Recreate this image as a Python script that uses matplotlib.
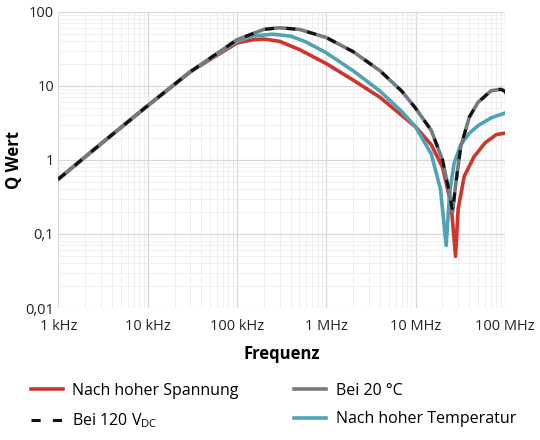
import numpy as np
import matplotlib.pyplot as plt
from matplotlib.ticker import FixedLocator, FixedFormatter, LogLocator, NullFormatter

plt.rcParams['font.family'] = ['Open Sans', 'DejaVu Sans']

# frequencies in Hz
f_gray = [1e3, 3e3, 1e4, 3e4, 1e5, 2e5, 3e5, 5e5, 1e6, 2e6, 4e6, 7e6, 1e7, 1.5e7, 2e7, 2.4e7, 2.6e7, 2.8e7, 3.2e7, 4e7, 5e7, 7e7, 9e7, 1e8, 1.1e8]
q_gray = [0.55, 1.65, 5.4, 15.5, 42, 58, 61, 58, 45, 29, 16, 8.5, 5, 2.5, 1.0, 0.35, 0.2, 0.45, 1.5, 3.8, 6, 8.6, 9, 8.5, 7]

f_red = [1e3, 3e3, 1e4, 3e4, 1e5, 1.5e5, 2e5, 3e5, 5e5, 1e6, 2e6, 4e6, 7e6, 1e7, 1.5e7, 2e7, 2.5e7, 2.8e7, 3e7, 3.5e7, 4.5e7, 6e7, 8e7, 1e8, 1.1e8]
q_red = [0.55, 1.65, 5.4, 15.5, 38, 42, 43, 40, 31, 20, 12, 7, 4, 2.8, 1.6, 0.8, 0.25, 0.05, 0.22, 0.6, 1.1, 1.7, 2.2, 2.3, 2.3]

f_teal = [1e3, 3e3, 1e4, 3e4, 1e5, 1.5e5, 2.5e5, 4e5, 6e5, 1e6, 2e6, 4e6, 7e6, 1e7, 1.5e7, 1.9e7, 2.2e7, 2.4e7, 2.7e7, 3.2e7, 4e7, 5e7, 7e7, 1e8, 1.1e8]
q_teal = [0.55, 1.65, 5.4, 15.5, 40, 47, 50, 47, 39, 28, 16, 8.5, 4.5, 2.8, 1.2, 0.4, 0.07, 0.35, 0.9, 1.6, 2.3, 2.9, 3.7, 4.3, 4.5]

xticks = [1e3, 1e4, 1e5, 1e6, 1e7, 1e8]
xlabels = ['1 kHz', '10 kHz', '100 kHz', '1 MHz', '10 MHz', '100 MHz']
yticks = [0.01, 0.1, 1, 10, 100]
ylabels = ['0,01', '0,1', '1', '10', '100']

fig = plt.figure(figsize=(5.4, 4.4), dpi=100)
ax = fig.add_axes([0.108, 0.30, 0.827, 0.673])

ax.plot(f_red, q_red, color='#d0352b', lw=2.6, label='Nach hoher Spannung')
ax.plot(f_teal, q_teal, color='#4fa3b5', lw=2.6, label='Nach hoher Temperatur')
ax.plot(f_gray, q_gray, color='#747b80', lw=2.6, label='Bei 20 °C')
ax.plot(f_gray, q_gray, color='#111111', lw=2.2, ls=(0, (3, 4)), label='Bei 120 V$_{\\mathregular{DC}}$')

ax.set_xscale('log')
ax.set_yscale('log')
ax.set_xlim(1e3, 1e8)
ax.set_ylim(0.01, 100)
ax.xaxis.set_major_locator(FixedLocator(xticks))
ax.xaxis.set_major_formatter(FixedFormatter(xlabels))
ax.yaxis.set_major_locator(FixedLocator(yticks))
ax.yaxis.set_major_formatter(FixedFormatter(ylabels))
ax.xaxis.set_minor_locator(LogLocator(base=10, subs=np.arange(2, 10)))
ax.yaxis.set_minor_locator(LogLocator(base=10, subs=np.arange(2, 10)))
ax.xaxis.set_minor_formatter(NullFormatter())
ax.yaxis.set_minor_formatter(NullFormatter())
ax.grid(which='major', color='#d8d8d8', lw=0.9)
ax.grid(which='minor', color='#ececec', lw=0.6)
ax.tick_params(which='both', length=0, labelsize=10.5, colors='#222222')
ax.tick_params(axis='y', pad=3)
ax.tick_params(axis='x', pad=8)
for s in ax.spines.values():
    s.set_visible(False)

ax.set_xlabel('Frequenz', fontsize=12, fontweight='bold', labelpad=8)
ax.set_ylabel('Q Wert', fontsize=12, fontweight='bold', labelpad=2)

h, l = ax.get_legend_handles_labels()
order = [0, 3, 2, 1]
fig.legend([h[i] for i in order], [l[i] for i in order], ncol=2, loc='lower left',
           bbox_to_anchor=(0.03, -0.01), frameon=False, fontsize=11.5,
           handlelength=2.0, handletextpad=0.6, columnspacing=3.5, labelspacing=0.8)

fig.savefig('out.png', dpi=100)
